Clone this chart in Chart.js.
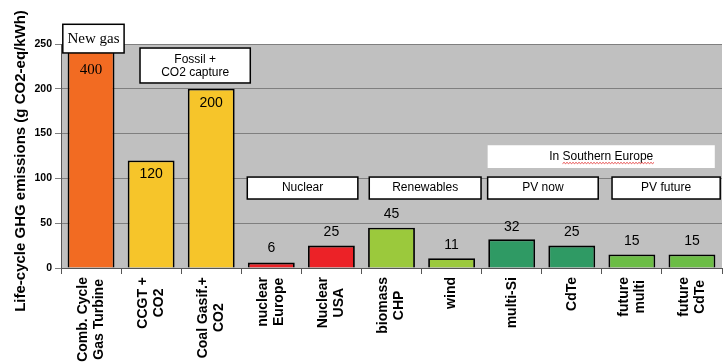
<!DOCTYPE html>
<html>
<head>
<meta charset="utf-8">
<script src="https://cdn.jsdelivr.net/npm/chart.js@4"></script>
<style>
  html, body { margin: 0; background: #fff; }
</style>
</head>
<body>
<canvas id="ghgChart" width="728" height="363"></canvas>
<script>
// data
const categories = [
  ['Comb. Cycle', 'Gas Turbine'], ['CCGT +', 'CO2'], ['Coal Gasif.+', 'CO2'],
  ['nuclear', 'Europe'], ['Nuclear', 'USA'], ['biomass', 'CHP'], ['wind'],
  ['multi-Si'], ['CdTe'], ['future', 'multi'], ['future', 'CdTe']
];
const emissions = [400, 120, 200, 6, 25, 45, 11, 32, 25, 15, 15];
const barColors = ['#F26B22', '#F6C52A', '#F6C52A', '#EC2227', '#EC2227', '#9BC93C',
  '#9BC93C', '#2F9A64', '#2F9A64', '#6CBD46', '#6CBD46'];
const yTicks = [0, 50, 100, 150, 200, 250];
const yTitle = 'Life-cycle GHG emissions (g CO2-eq/kWh)';

// group boxes (category index spans) and their labels
const groupLabels = ['Nuclear', 'Renewables', 'PV now', 'PV future'];
const groupSpans = [[2.6, 4.44], [4.63, 6.49], [6.6, 8.44], [8.67, 10.47]];
const groupRange = [77, 101.5];

// label offset from bar top (positive = inside the bar)
const labelOffset = [26, 14, 14, -14, -13, -14, -13, -12, -13, -13, -13];

const bgPlugin = {
  id: 'plotBg',
  beforeDraw(chart) {
    const { ctx, chartArea: a } = chart;
    ctx.save();
    ctx.fillStyle = '#C0C0C0';
    ctx.fillRect(a.left, a.top, a.right - a.left, a.bottom - a.top);
    ctx.restore();
  }
};

function box(ctx, x1, y1, x2, y2, border) {
  ctx.fillStyle = '#fff';
  ctx.fillRect(x1, y1, x2 - x1, y2 - y1);
  if (border) {
    ctx.strokeStyle = '#000';
    ctx.lineWidth = 1.5;
    ctx.strokeRect(x1, y1, x2 - x1, y2 - y1);
  }
}

const textPlugin = {
  id: 'texts',
  afterDatasetsDraw(chart) {
    const { ctx, chartArea: a } = chart;
    const xs = chart.scales.x, ys = chart.scales.y;
    const bars = chart.getDatasetMeta(0).data;
    ctx.save();

    // value labels
    ctx.textAlign = 'center';
    ctx.textBaseline = 'middle';
    ctx.fillStyle = '#000';
    bars.forEach((b, i) => {
      const top = Math.max(b.y, a.top);
      ctx.font = i === 0 ? '15px "Liberation Serif", serif' : '14px "Liberation Sans", Arial, sans-serif';
      ctx.fillText(String(emissions[i]), b.x, top + labelOffset[i]);
    });

    // "New gas" box
    const ng1 = xs.getPixelForValue(-0.47), ng2 = xs.getPixelForValue(0.55);
    const ngT = ys.getPixelForValue(272), ngB = ys.getPixelForValue(240);
    box(ctx, ng1, ngT, ng2, ngB, true);
    ctx.fillStyle = '#000';
    ctx.font = '15px "Liberation Serif", serif';
    ctx.fillText('New gas', (ng1 + ng2) / 2, (ngT + ngB) / 2);

    // fossil + capture box
    const f1 = xs.getPixelForValue(0.815), f2 = xs.getPixelForValue(2.65);
    const fT = ys.getPixelForValue(245.5), fB = ys.getPixelForValue(206.5);
    box(ctx, f1, fT, f2, fB, true);
    ctx.fillStyle = '#000';
    ctx.font = '12px "Liberation Sans", Arial, sans-serif';
    ctx.fillText('Fossil +', (f1 + f2) / 2, (fT + fB) / 2 - 6);
    ctx.fillText('CO2 capture', (f1 + f2) / 2, (fT + fB) / 2 + 7);

    // "In Southern Europe" band
    const s1 = xs.getPixelForValue(6.6), s2 = xs.getPixelForValue(10.38);
    const sT = ys.getPixelForValue(137), sB = ys.getPixelForValue(111.6);
    box(ctx, s1, sT, s2, sB, false);
    ctx.fillStyle = '#000';
    ctx.font = '12px "Liberation Sans", Arial, sans-serif';
    const sText = 'In Southern Europe';
    const sx = (s1 + s2) / 2, sy = (sT + sB) / 2;
    ctx.fillText(sText, sx, sy);
    // spell-check squiggle under "Southern Europe"
    const full = ctx.measureText(sText).width;
    const pre = ctx.measureText('In ').width;
    let wx = sx - full / 2 + pre, wEnd = sx + full / 2, wy = sy + 7, up = true;
    ctx.strokeStyle = '#E02020';
    ctx.lineWidth = 0.8;
    ctx.beginPath();
    ctx.moveTo(wx, wy);
    while (wx < wEnd) { wx += 1.5; ctx.lineTo(wx, up ? wy - 1.2 : wy); up = !up; }
    ctx.stroke();

    // group boxes
    const gT = ys.getPixelForValue(groupRange[1]), gB = ys.getPixelForValue(groupRange[0]);
    groupLabels.forEach((g, i) => {
      const g1 = xs.getPixelForValue(groupSpans[i][0]), g2 = xs.getPixelForValue(groupSpans[i][1]);
      box(ctx, g1, gT, g2, gB, true);
      ctx.fillStyle = '#000';
      ctx.font = '12px "Liberation Sans", Arial, sans-serif';
      ctx.fillText(g, (g1 + g2) / 2, (gT + gB) / 2);
    });

    // x category labels, rotated, lines centred
    ctx.font = 'bold 14px "Liberation Sans", Arial, sans-serif';
    categories.forEach((lines, i) => {
      const x = xs.getPixelForValue(i);
      const maxW = Math.max(...lines.map(l => ctx.measureText(l).width));
      ctx.save();
      ctx.translate(x, a.bottom + 9);
      ctx.rotate(-Math.PI / 2);
      lines.forEach((l, k) => {
        ctx.fillText(l, -maxW / 2, (k - (lines.length - 1) / 2) * 16);
      });
      ctx.restore();
    });

    // y axis title
    ctx.save();
    ctx.translate(21, 161);
    ctx.rotate(-Math.PI / 2);
    ctx.font = 'bold 15px "Liberation Sans", Arial, sans-serif';
    ctx.fillText(yTitle, 0, 0);
    ctx.restore();

    ctx.restore();
  }
};

new Chart(document.getElementById('ghgChart').getContext('2d'), {
  type: 'bar',
  data: {
    labels: categories,
    datasets: [{
      data: emissions,
      backgroundColor: barColors,
      borderColor: '#000',
      borderWidth: 1.8,
      barPercentage: 0.78,
      categoryPercentage: 1
    }]
  },
  options: {
    responsive: false,
    animation: false,
    layout: { padding: { top: 44, right: 6, left: 0, bottom: 0 } },
    plugins: { legend: { display: false }, tooltip: { enabled: false } },
    scales: {
      x: {
        ticks: { display: false },
        grid: { drawOnChartArea: false, drawTicks: true, tickLength: 6, color: '#555' },
        border: { color: '#555' },
        afterFit: s => { s.height = 95; }
      },
      y: {
        min: 0,
        max: 250,
        afterBuildTicks: s => { s.ticks = yTicks.map(v => ({ value: v })); },
        ticks: {
          color: '#000',
          padding: 3,
          font: { family: '"Liberation Sans", Arial, sans-serif', size: 10.5, weight: 'bold' }
        },
        grid: { color: '#7f7f7f', tickLength: 6 },
        border: { color: '#555' },
        afterFit: s => { s.width = 61; }
      }
    }
  },
  plugins: [bgPlugin, textPlugin]
});
</script>
</body>
</html>
